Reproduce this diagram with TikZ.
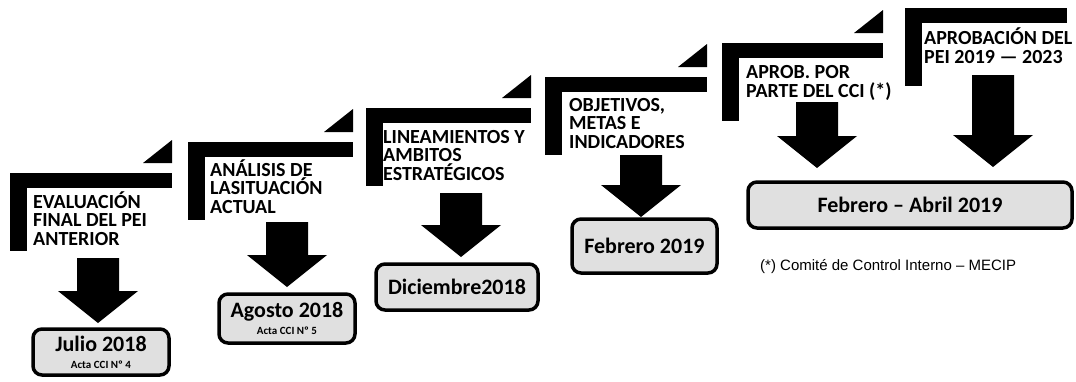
\documentclass[tikz,border=0pt]{standalone}
\usepackage{fontspec}
\setmainfont{Carlito}
\newfontfamily\notefont{Liberation Sans}
\usetikzlibrary{calc}
\def\stepbar(#1,#2,#3){\fill (#1,#2) rectangle (#3,#2+15); \fill (#1,#2) rectangle (#1+17,#2+78);}
\def\steptip(#1,#2){\fill (#1-29,#2-10) -- (#1,#2-10) -- (#1,#2-33) -- cycle;}
\def\blockarrow(#1,#2,#3){\fill (#1-21,#2) -- (#1+21,#2) -- (#1+21,#3-32) -- (#1+40,#3-32) -- (#1,#3) -- (#1-40,#3-32) -- (#1-21,#3-32) -- cycle;}
\tikzset{
	steptext/.style={anchor=base west, inner sep=0, align=left, font=\bfseries\fontsize{20}{18.5}\selectfont},
	datebox/.style={draw, line width=3.5pt, rounded corners=9pt, fill=black!12, align=center, inner sep=0, font=\bfseries\fontsize{22}{20}\selectfont},
	actatext/.style={font=\bfseries\fontsize{11}{11}\selectfont},
}

\begin{document}
\begin{tikzpicture}[x=1pt, y=-1pt]
			%%%%% START %%%%%
			\useasboundingbox (0,0) rectangle (1076,381);
			
			\stepbar(10,173,172)
			\steptip(172,173)
			\node[steptext] (s1) at (33,245) {EVALUACIÓN\\FINAL DEL PEI\\ANTERIOR};
			\blockarrow(98,258,323)
			\node[datebox, minimum width=136pt, minimum height=46pt] (d1) at (101,352) {Julio 2018\\[-3pt]{\fontsize{11}{11}\selectfont Acta CCI Nº 4}};
			
			\stepbar(188,142,353)
			\steptip(353,142)
			\node[steptext] (s2) at (210,213) {ANÁLISIS DE\\LASITUACIÓN\\ACTUAL};
			\blockarrow(287,222,287)
			\node[datebox, minimum width=136pt, minimum height=49pt] (d2) at (287,318.5) {Agosto 2018\\[-3pt]{\fontsize{11}{11}\selectfont Acta CCI Nº 5}};
			
			\stepbar(366,108,531)
			\steptip(531,108)
			\node[steptext] (s3) at (383,180) {LINEAMIENTOS Y\\AMBITOS\\ESTRATÉGICOS};
			\blockarrow(461,193,257)
			\node[datebox, minimum width=162pt, minimum height=46pt] (d3) at (457,287) {Diciembre2018};
			
			\stepbar(545,77,707)
			\steptip(707,77)
			\node[steptext] (s4) at (569,148) {OBJETIVOS,\\METAS E\\INDICADORES};
			\blockarrow(641,155,217)
			\node[datebox, minimum width=145pt, minimum height=54pt] (d4) at (644.5,246) {Febrero 2019};
			
			\stepbar(722,43,883)
			\steptip(883,43)
			\node[steptext] (s5) at (746,97) {APROB. POR\\PARTE DEL CCI (*)};
			\blockarrow(817,102,168)
			
			\stepbar(905,8,1067)
			\node[steptext] (s6) at (924,63) {APROBACIÓN DEL\\PEI 2019 — 2023};
			\blockarrow(993,75,167)
			
			\node[datebox, minimum width=324pt, minimum height=46pt] (d5) at (910,205) {Febrero – Abril 2019};
			
			\node[anchor=base west, inner sep=0, font=\notefont\fontsize{15}{15}\selectfont] (n1) at (760,270) {(*) Comité de Control Interno – MECIP};
			
			%%%%% END %%%%%
\end{tikzpicture}
\end{document}
